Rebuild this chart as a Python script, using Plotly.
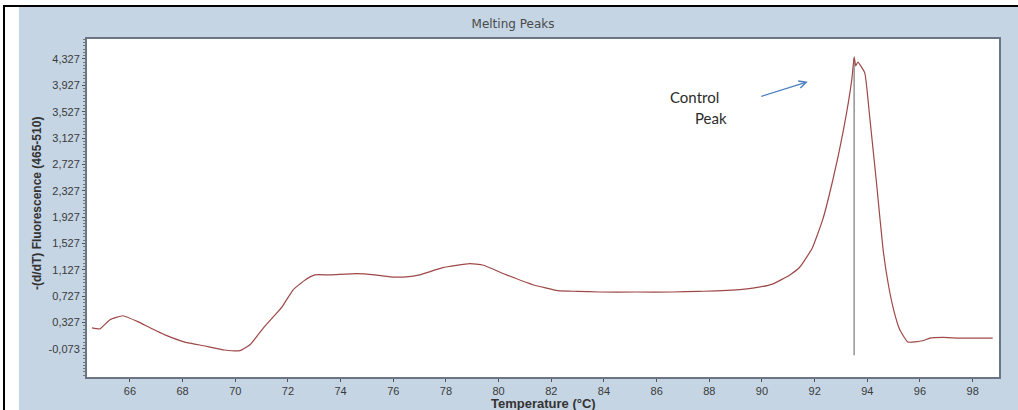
import plotly.graph_objects as go

# Melting curve: -(d/dT) fluorescence vs temperature
temperature = [64.56, 64.86, 65.24, 65.73, 66.3, 66.8, 67.33, 68.09, 68.85, 69.6,
               70.18, 70.56, 71.1, 71.77, 72.19, 72.64, 73.02, 73.6, 74.6, 75.3,
               75.87, 76.5, 77.0, 77.88, 78.9, 79.4, 80.3, 81.3, 82.25, 83.0,
               83.84, 85.2, 86.6, 87.6, 88.5, 89.65, 90.4, 91.06, 91.44, 91.9,
               92.3, 92.69, 93.07, 93.41, 93.5, 93.56, 93.64, 93.9, 94.09, 94.35,
               94.6, 94.8, 95.0, 95.23, 95.54, 96.1, 96.37, 96.87, 97.5, 98.76]
fluorescence = [0.246, 0.23, 0.37, 0.43, 0.34, 0.24, 0.14, 0.03, -0.03, -0.09,
                -0.10, -0.01, 0.26, 0.56, 0.82, 0.97, 1.05, 1.05, 1.07, 1.05,
                1.02, 1.02, 1.05, 1.16, 1.22, 1.20, 1.05, 0.90, 0.81, 0.80,
                0.79, 0.79, 0.79, 0.80, 0.81, 0.85, 0.91, 1.05, 1.17, 1.45,
                1.88, 2.49, 3.20, 4.01, 4.36, 4.22, 4.28, 4.12, 3.45, 2.44,
                1.43, 0.90, 0.52, 0.22, 0.03, 0.05, 0.09, 0.10, 0.09, 0.09]

# Tm marker line
marker_temp = [93.5, 93.5]
marker_level = [-0.17, 4.33]

y_ticks = [-0.073, 0.327, 0.727, 1.127, 1.527, 1.927, 2.327, 2.727, 3.127, 3.527, 3.927, 4.327]
y_tick_labels = ["-0,073", "0,327", "0,727", "1,127", "1,527", "1,927",
                 "2,327", "2,727", "3,127", "3,527", "3,927", "4,327"]
x_ticks = [66, 68, 70, 72, 74, 76, 78, 80, 82, 84, 86, 88, 90, 92, 94, 96, 98]

W, H = 1018, 410
L, R, T, B = 87, 19, 39, 33
pw, ph = W - L - R, H - T - B


def px(x):
    return (x - L) / pw


def py(y):
    return (H - B - y) / ph


fig = go.Figure()
fig.add_trace(go.Scatter(x=marker_temp, y=marker_level, mode="lines",
                         line=dict(color="#939393", width=1.5), hoverinfo="skip"))
fig.add_trace(go.Scatter(x=temperature, y=fluorescence, mode="lines",
                         line=dict(color="#9e4848", width=1.2, shape="spline", smoothing=0.4)))

axis_font = dict(family="Liberation Sans", size=11, color="#3a3a3a")
fig.update_xaxes(range=[64.37, 99.0], tickvals=x_ticks, ticks="outside", ticklen=3,
                 tickcolor="#555", showgrid=False, zeroline=False, showline=True,
                 linecolor="#6b7684", linewidth=2, mirror=True, tickfont=axis_font)
fig.update_yaxes(range=[-0.50, 4.63], tickvals=y_ticks, ticktext=y_tick_labels,
                 ticks="outside", ticklen=3, tickcolor="#555", showgrid=False, zeroline=False,
                 showline=True, linecolor="#6b7684", linewidth=2, mirror=True, tickfont=axis_font,
                 minor=dict(dtick=0.05, tick0=-0.073, ticks="outside", ticklen=2, tickcolor="#777"))

shapes = [
    # white frame strips and black border
    dict(type="rect", xref="paper", yref="paper", x0=px(-5), x1=px(19), y0=py(-5), y1=py(H + 5),
         fillcolor="white", line_width=0),
    dict(type="rect", xref="paper", yref="paper", x0=px(-5), x1=px(W + 5), y0=py(7), y1=py(-5),
         fillcolor="white", line_width=0),
    dict(type="line", xref="paper", yref="paper", x0=px(3), x1=px(W + 5), y0=py(6), y1=py(6),
         line=dict(color="black", width=2)),
    dict(type="line", xref="paper", yref="paper", x0=px(4), x1=px(4), y0=py(6), y1=py(H + 5),
         line=dict(color="black", width=2)),
]

annotations = [
    dict(text="<b>-(d/dT) Fluorescence (465-510)</b>", xref="paper", yref="paper",
         x=px(37), y=py(204), textangle=-90, showarrow=False,
         font=dict(family="Liberation Sans", size=12, color="#333"),
         xanchor="center", yanchor="middle"),
    dict(text="<b>Temperature (°C)</b>", xref="paper", yref="paper", x=px(543), y=py(403),
         showarrow=False, font=dict(family="Liberation Sans", size=13, color="#333"),
         xanchor="center", yanchor="middle"),
    dict(text="Control", x=87.45, y=3.75, showarrow=False,
         font=dict(family="Lato", size=15, color="#2b2b2b"), xanchor="center", yanchor="middle"),
    dict(text="Peak", x=88.05, y=3.43, showarrow=False,
         font=dict(family="Lato", size=15, color="#2b2b2b"), xanchor="center", yanchor="middle"),
    dict(text="", x=91.74, y=3.98, ax=-48, ay=15, showarrow=True, arrowhead=5,
         arrowsize=1.2, arrowwidth=1.2, arrowcolor="#4a7ebf"),
]

fig.update_layout(
    width=W, height=H,
    margin=dict(l=L, r=R, t=T, b=B),
    paper_bgcolor="#c5d5e4", plot_bgcolor="white",
    separators=",.",
    showlegend=False,
    title=dict(text="Melting Peaks", x=px(513), xanchor="center", xref="paper",
               y=1 - 24 / H, yanchor="middle", yref="container",
               font=dict(family="DejaVu Sans", size=12, color="#4a4a4a")),
    shapes=shapes,
    annotations=annotations,
)

fig.write_html("out.html")
